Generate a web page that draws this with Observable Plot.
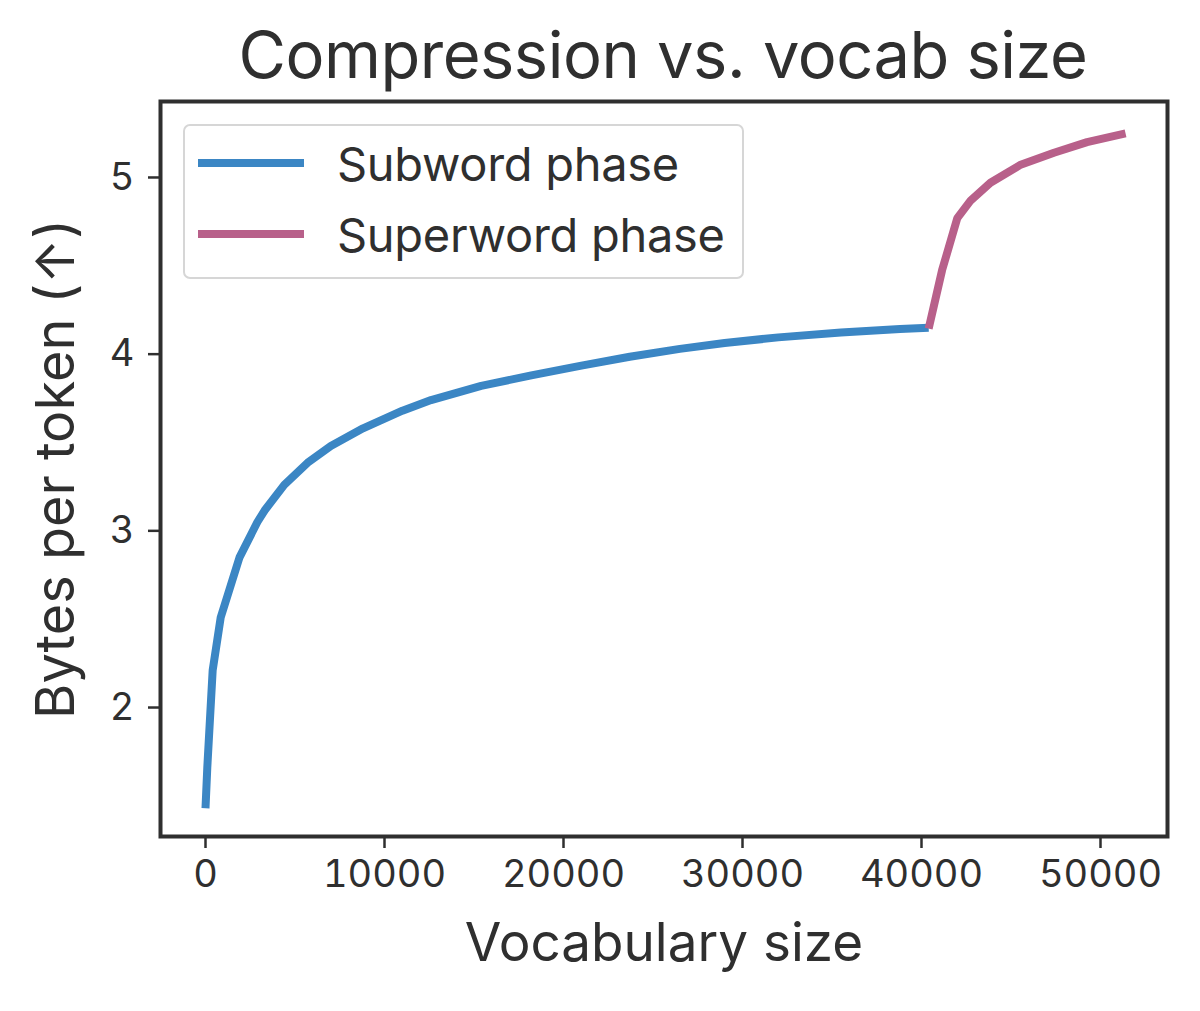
<!DOCTYPE html>
<html>
<head>
<meta charset="utf-8">
<script src="https://cdn.jsdelivr.net/npm/d3@7"></script>
<script src="https://cdn.jsdelivr.net/npm/@observablehq/plot@0.6"></script>
<style>
  html, body { margin: 0; padding: 0; background: #fff; }
  body { width: 1200px; height: 1011px; position: relative; font-family: Inter, "Noto Sans", sans-serif; color: #2f2f2f; overflow: hidden; }
  #title { position: absolute; left: 126px; width: 1074px; top: 22px; text-align: center; font-size: 65px; line-height: 1; font-weight: 400; color: #2f2f2f; letter-spacing: -0.5px; }
  #chart { position: absolute; left: 0; top: 96px; }
  #legend { position: absolute; left: 183px; top: 124px; width: 561px; height: 155px; border: 2.5px solid #d6d6d6; border-radius: 7px; box-sizing: border-box; background: #fff; }
  .item { position: absolute; left: 0; height: 40px; display: flex; align-items: center; }
  .swatch { position: absolute; left: 13px; width: 106px; height: 8px; }
  .lab { position: absolute; left: 152px; font-size: 47px; white-space: nowrap; color: #2f2f2f; letter-spacing: -0.3px; }
</style>
</head>
<body>
<div id="title">Compression vs. vocab size</div>
<div id="chart"></div>
<div id="legend"></div>
<script>
// Subword phase (blue)
const subwordVocab = [0, 100, 400, 850, 1900, 2900, 3300, 4400, 5700, 7000, 8800, 11000, 12600, 15400, 18200, 21000, 23700, 26500, 29000, 32000, 35500, 38800, 40400];
const subwordBytes = [1.43, 1.66, 2.21, 2.51, 2.85, 3.05, 3.115, 3.26, 3.385, 3.48, 3.58, 3.68, 3.74, 3.82, 3.88, 3.935, 3.985, 4.03, 4.063, 4.095, 4.122, 4.142, 4.15];
// Superword phase (pink)
const superwordVocab = [40400, 41150, 42000, 42750, 43850, 45500, 47400, 49250, 51400];
const superwordBytes = [4.145, 4.475, 4.77, 4.87, 4.97, 5.07, 5.14, 5.20, 5.25];

const xTicks = [0, 10000, 20000, 30000, 40000, 50000];
const yTicks = [2, 3, 4, 5];
const seriesNames = ["Subword phase", "Superword phase"];
const seriesColors = ["#3b86c4", "#b8608a"];

const sub = subwordVocab.map((v, i) => ({x: v, y: subwordBytes[i]}));
const sup = superwordVocab.map((v, i) => ({x: v, y: superwordBytes[i]}));

const ink = "#2f2f2f";
const chart = Plot.plot({
  width: 1200,
  height: 915,
  marginTop: 5,
  marginBottom: 175,
  marginLeft: 160,
  marginRight: 33,
  style: {fontFamily: "Inter, 'Noto Sans', sans-serif", fontSize: "38px", color: ink, background: "transparent"},
  x: {domain: [-2514, 53743], ticks: xTicks, tickFormat: d => String(d), tickSize: 12, tickPadding: 12, label: null},
  y: {domain: [1.27, 5.43], ticks: yTicks, tickFormat: d => String(d), tickSize: 12, tickPadding: 14, label: null},
  marks: [
    Plot.line(sub, {x: "x", y: "y", stroke: seriesColors[0], strokeWidth: 8, strokeLinejoin: "miter", strokeLinecap: "butt"}),
    Plot.line(sup, {x: "x", y: "y", stroke: seriesColors[1], strokeWidth: 8, strokeLinejoin: "miter", strokeLinecap: "butt"}),
    Plot.frame({stroke: ink, strokeWidth: 4}),
    Plot.text(["Vocabulary size"], {frameAnchor: "bottom", dy: 124, fontSize: 53, fill: ink, text: d => d}),
    Plot.text(["Bytes per token (↑)"], {frameAnchor: "left", textAnchor: "middle", dx: -104, rotate: -90, fontSize: 54, fill: ink, text: d => d})
  ]
});
chart.querySelectorAll("[aria-label='x-axis tick'] path, [aria-label='y-axis tick'] path").forEach(p => { p.setAttribute("stroke", ink); p.setAttribute("stroke-width", "2.5"); });
chart.querySelectorAll("[aria-label='x-axis tick label'], [aria-label='y-axis tick label']").forEach(g => g.setAttribute("fill", ink));
document.getElementById("chart").appendChild(chart);

const legend = document.getElementById("legend");
seriesNames.forEach((name, i) => {
  const item = document.createElement("div");
  item.className = "item";
  item.style.top = (i === 0 ? 17 : 88) + "px";
  item.innerHTML = `<div class="swatch" style="background:${seriesColors[i]}"></div><div class="lab">${name}</div>`;
  legend.appendChild(item);
});
</script>
</body>
</html>
